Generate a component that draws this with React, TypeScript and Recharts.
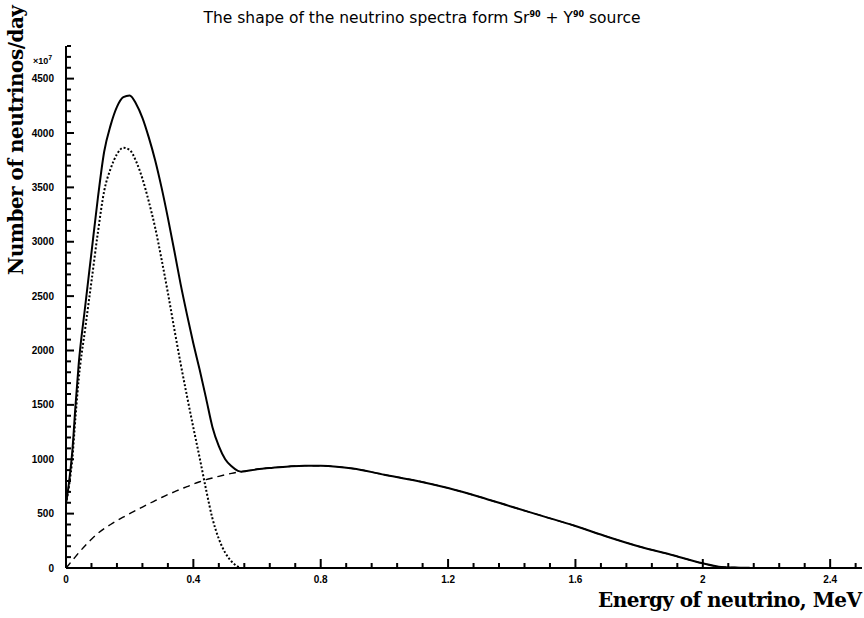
import { LineChart, Line, XAxis, YAxis } from 'recharts'

// energy grid (MeV)
const energy = [
  0, 0.01, 0.02, 0.03, 0.04, 0.06, 0.08, 0.1, 0.12, 0.14,
  0.16, 0.18, 0.2, 0.22, 0.24, 0.26, 0.28, 0.3, 0.32, 0.34,
  0.36, 0.38, 0.4, 0.42, 0.44, 0.46, 0.48, 0.5, 0.52, 0.54,
  0.55, 0.6, 0.65, 0.7, 0.75, 0.8, 0.85, 0.9, 1.0, 1.1,
  1.2, 1.3, 1.4, 1.5, 1.6, 1.7, 1.8, 1.9, 2.0, 2.05,
  2.1, 2.15, 2.2, 2.3,
]

// Y90 component (dashed)
const y90 = [
  0, 35, 70, 105, 140, 205, 265, 318, 362, 400,
  435, 468, 500, 530, 560, 590, 620, 648, 675, 700,
  725, 748, 772, 793, 812, 828, 843, 857, 870, 881,
  886, 908, 922, 934, 941, 940, 932, 915, 858, 803,
  735, 653, 563, 475, 386, 288, 198, 122, 43, 12,
  4, 1, 0, 0,
]

// Sr90 component (dotted), ends at ~0.55 MeV
const sr90 = [
  590, 765, 1010, 1395, 1740, 2195, 2635, 3082, 3468, 3670,
  3805, 3865, 3845, 3740, 3580, 3370, 3130, 2840, 2530, 2200,
  1880, 1580, 1290, 1010, 720, 455, 268, 140, 60, 12,
  0,
]

// Sr90 + Y90 (solid)
const total = [
  590, 800, 1080, 1500, 1880, 2400, 2900, 3400, 3830, 4070,
  4240, 4330, 4345, 4270, 4140, 3960, 3750, 3500, 3220, 2920,
  2610, 2330, 2065, 1820, 1560, 1295, 1120, 1000, 935, 893,
  886, 908, 922, 934, 941, 940, 932, 915, 858, 803,
  735, 653, 563, 475, 386, 288, 198, 122, 43, 12,
  4, 1, 0, 0,
]

const xTickLabels = ['0', '0.4', '0.8', '1.2', '1.6', '2', '2.4']
const yTickLabels = ['0', '500', '1000', '1500', '2000', '2500', '3000', '3500', '4000', '4500']

// major ticks every 0.4 / 500, with 5 subdivisions
const xTicks = Array.from({ length: 32 }, (_, i) => Math.round(i * 8) / 100)
const yTicks = Array.from({ length: 49 }, (_, i) => i * 100)

const data = energy.map((e, i) => ({
  e,
  y90: y90[i],
  sr: i < sr90.length ? sr90[i] : null,
  total: total[i],
}))

const tickFont = '"Liberation Sans", Arial, sans-serif'
const labelFont = '"DejaVu Serif", serif'

function XTick(props: any) {
  const { x, y, index } = props
  const major = index % 5 === 0
  return (
    <g>
      <line x1={x} y1={y - 1} x2={x} y2={y - (major ? 9 : 5)} stroke="#000" strokeWidth={2} />
      {major && (
        <text x={x} y={y + 15} textAnchor="middle" fontSize={10} fontWeight="bold" fontFamily={tickFont} fill="#000">
          {xTickLabels[index / 5]}
        </text>
      )}
    </g>
  )
}

function YTick(props: any) {
  const { x, y, index } = props
  const major = index % 5 === 0
  return (
    <g>
      <line x1={x + 1} y1={y} x2={x + (major ? 8 : 5)} y2={y} stroke="#000" strokeWidth={2} />
      {major && index / 5 < yTickLabels.length && (
        <text x={x - 12} y={y + 3.5} textAnchor="end" fontSize={10} fontWeight="bold" fontFamily={tickFont} fill="#000">
          {yTickLabels[index / 5]}
        </text>
      )}
    </g>
  )
}

export default function App() {
  return (
    <div style={{ position: 'absolute', left: 0, top: 0, width: 864, height: 618, background: '#fff' }}>
      <LineChart width={864} height={618} data={data} margin={{ top: 46, right: 2, left: 0, bottom: 0 }}>
        <XAxis
          dataKey="e"
          type="number"
          domain={[0, 2.5]}
          ticks={xTicks}
          interval={0}
          height={50}
          tickSize={0}
          tickMargin={0}
          tickLine={false}
          tick={<XTick />}
          axisLine={{ stroke: '#000', strokeWidth: 2 }}
        />
        <XAxis
          xAxisId="top"
          orientation="top"
          type="number"
          domain={[0, 2.5]}
          height={0}
          tick={false}
          tickLine={false}
          axisLine={{ stroke: '#000', strokeWidth: 1.5 }}
        />
        <YAxis
          type="number"
          domain={[0, 4800]}
          ticks={yTicks}
          interval={0}
          width={66}
          tickSize={0}
          tickMargin={0}
          tickLine={false}
          tick={<YTick />}
          axisLine={{ stroke: '#000', strokeWidth: 2 }}
        />
        <Line dataKey="y90" type="monotone" stroke="#000" strokeWidth={1.4} strokeDasharray="7 5" dot={false} isAnimationActive={false} />
        <Line dataKey="sr" type="monotone" stroke="#000" strokeWidth={2} strokeDasharray="2 2" dot={false} isAnimationActive={false} />
        <Line dataKey="total" type="monotone" stroke="#000" strokeWidth={2} dot={false} isAnimationActive={false} />
      </LineChart>
      <svg width={864} height={618} style={{ position: 'absolute', left: 0, top: 0, pointerEvents: 'none' }}>
        <text x={422} y={23} textAnchor="middle" fontSize={15.5} fontFamily='"DejaVu Sans", sans-serif' fill="#000">
          The shape of the neutrino spectra form Sr
          <tspan dy={-6} fontSize={8} fontWeight="bold">90</tspan>
          <tspan dy={6}> + Y</tspan>
          <tspan dy={-6} fontSize={8} fontWeight="bold">90</tspan>
          <tspan dy={6}> source</tspan>
        </text>
        <text x={33} y={64} fontSize={9} fontWeight="bold" fontFamily={tickFont} fill="#000">
          ×10<tspan dy={-4} fontSize={7}>7</tspan>
        </text>
        <text
          transform="translate(23,275) rotate(-90)"
          fontSize={20}
          fontWeight="bold"
          fontFamily={labelFont}
          textLength={270}
          lengthAdjust="spacing"
          fill="#000"
        >
          Number of neutrinos/day
        </text>
        <text
          x={862}
          y={607}
          textAnchor="end"
          fontSize={20}
          fontWeight="bold"
          fontFamily={labelFont}
          textLength={264}
          lengthAdjust="spacing"
          fill="#000"
        >
          Energy of neutrino, MeV
        </text>
      </svg>
    </div>
  )
}
